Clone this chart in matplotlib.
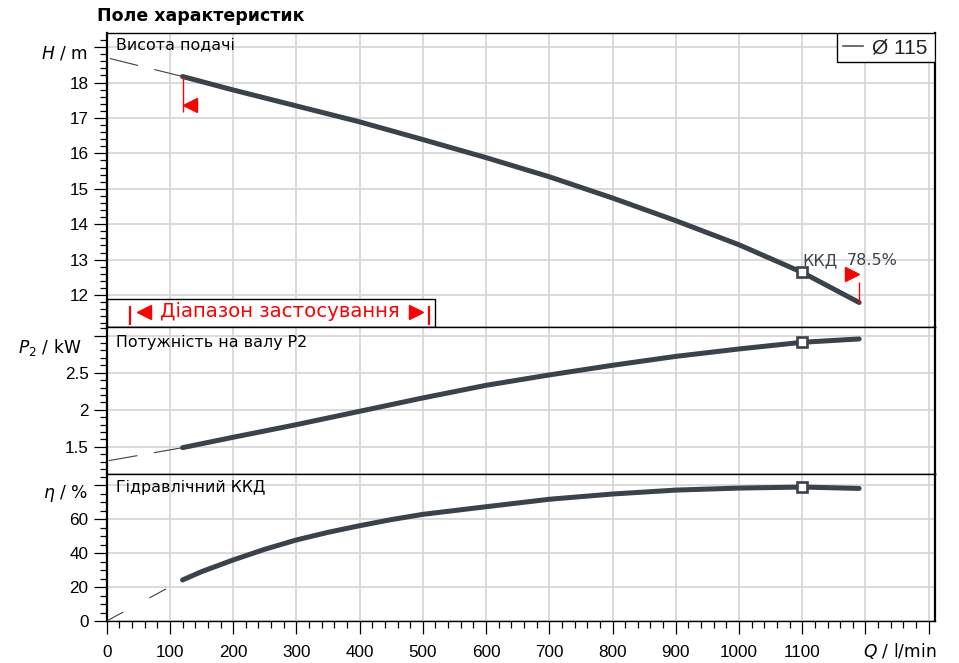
import numpy as np
import matplotlib
matplotlib.use("Agg")
import matplotlib.pyplot as plt
from matplotlib.ticker import MultipleLocator, FixedLocator, FuncFormatter
from matplotlib.patches import Rectangle
from matplotlib.transforms import offset_copy, blended_transform_factory

plt.rcParams['font.family'] = ['Liberation Sans', 'DejaVu Sans']
plt.rcParams['mathtext.fontset'] = 'custom'
plt.rcParams['mathtext.it'] = 'DejaVu Sans:italic'
plt.rcParams['mathtext.rm'] = 'DejaVu Sans'
plt.rcParams['lines.scale_dashes'] = False

### data
q = [120, 200, 300, 400, 500, 600, 700, 800, 900, 1000, 1100, 1190]
head = [18.17, 17.79, 17.34, 16.89, 16.39, 15.88, 15.34, 14.74, 14.10, 13.42, 12.64, 11.79]
power = [1.49, 1.63, 1.80, 1.98, 2.16, 2.33, 2.47, 2.60, 2.72, 2.82, 2.91, 2.955]

q_eta = [120, 150, 200, 250, 300, 350, 400, 450, 500, 600, 700, 800, 900, 1000, 1100, 1190]
eta = [24.2, 29.1, 36.0, 42.3, 47.8, 52.3, 56.2, 59.8, 62.9, 67.4, 71.8, 74.9, 77.2, 78.4, 79.0, 78.2]

# dashed extension towards Q = 0
q_ext = [120, 0]
head_ext = [18.17, 18.70]
power_ext = [1.49, 1.31]
q_ext_eta = [0, 120]
eta_ext = [0, 24.2]

q_bep = 1100
bep_head = 12.64
bep_power = 2.91
bep_eta = 79.0
bep_label = "78.5%"

app_range = [37, 509]
legend_label = "Ø 115"

dark = '#3a424b'
red = '#ff0000'
grid_c = '#d4d4d4'
wide = 'DejaVu Sans'

W, H = 959, 663
fig = plt.figure(figsize=(W / 100, H / 100), dpi=100)


def frac(x0, y0, x1, y1):
    return [x0 / W, 1 - y1 / H, (x1 - x0) / W, (y1 - y0) / H]


ax_h = fig.add_axes(frac(106.7, 33.3, 935, 326.7))
ax_p = fig.add_axes(frac(106.7, 326.7, 935, 474))
ax_e = fig.add_axes(frac(106.7, 474, 935, 621))

ylims = [(11.107, 19.39), (1.135, 3.12), (0, 86.7)]
majors = [np.arange(12, 20, 1), [1.5, 2.0, 2.5, 3.0], np.arange(0, 81, 20)]
minors = [0.2, 0.1, 5]
hidden = [19, 3.0, 80]
fmts = ['{:.0f}', '{:g}', '{:.0f}']

for ax, yl, mj, mn, hid, fm in zip([ax_h, ax_p, ax_e], ylims, majors, minors, hidden, fmts):
    ax.set_xlim(0, 1310)
    ax.set_ylim(*yl)
    ax.xaxis.set_major_locator(MultipleLocator(100))
    ax.xaxis.set_minor_locator(MultipleLocator(20))
    ax.yaxis.set_major_locator(FixedLocator(mj))
    ax.yaxis.set_minor_locator(MultipleLocator(mn))
    ax.yaxis.set_major_formatter(FuncFormatter(lambda v, p, hid=hid, fm=fm: '' if abs(v - hid) < 1e-6 else fm.format(v)))
    ax.grid(True, which='major', color=grid_c, lw=1.2)
    ax.set_axisbelow(True)
    ax.tick_params(axis='y', which='major', direction='out', length=9.6, width=0.9, labelsize=12.3, pad=3.5)
    ax.tick_params(axis='y', which='minor', direction='out', length=5.3, width=0.9)
    for s in ax.spines.values():
        s.set_linewidth(1.0)
    ax.spines['left'].set_linewidth(1.6)
    ax.spines['right'].set_linewidth(1.6)
    if ax is not ax_e:
        ax.tick_params(axis='x', which='both', length=0, labelbottom=False)

ax_e.tick_params(axis='x', which='major', direction='out', length=9.6, width=0.9, labelsize=12.3, pad=8)
ax_e.tick_params(axis='x', which='minor', direction='out', length=5.3, width=0.9)
ax_e.xaxis.set_major_formatter(FuncFormatter(lambda v, p: '' if v > 1150 else '{:.0f}'.format(v)))

# curves
for ax, yv, ye, yb in [(ax_h, head, head_ext, bep_head), (ax_p, power, power_ext, bep_power)]:
    ax.plot(q_ext, ye, color=dark, lw=0.8, dashes=(21, 12), zorder=3)
    ax.plot(q, yv, color=dark, lw=3.6, solid_capstyle='round', solid_joinstyle='round', zorder=4)
    ax.plot([q_bep], [yb], marker='s', ms=6.5, mew=1.9, mec=dark, mfc='white', zorder=5)
ax_e.plot(q_ext_eta, eta_ext, color=dark, lw=0.8, dashes=(13.5, 21.5), zorder=3)
ax_e.plot(q_eta, eta, color=dark, lw=3.6, solid_capstyle='round', solid_joinstyle='round', zorder=4)
ax_e.plot([q_bep], [bep_eta], marker='s', ms=6.5, mew=1.9, mec=dark, mfc='white', zorder=5)

# red limit flags on the head curve
ax_h.vlines(q[0], 17.155, head[0], color=red, lw=1.0, zorder=5)
ax_h.plot([q[0]], [17.36], marker='<', ms=10.3, color=red, lw=0,
          transform=offset_copy(ax_h.transData, fig=fig, x=5.2, y=0, units='points'), zorder=5)
ax_h.vlines(q[-1], head[-1], 12.38, color=red, lw=1.0, zorder=5)
ax_h.plot([q[-1]], [12.59], marker='>', ms=10.3, color=red, lw=0,
          transform=offset_copy(ax_h.transData, fig=fig, x=-5.2, y=0, units='points'), zorder=5)

ax_h.text(q_bep, 12.97, "ККД", color=dark, fontsize=11.5, family=wide, ha='left', va='center', zorder=6)
ax_h.text(1171, 12.97, bep_label, color=dark, fontsize=11.5, family=wide, ha='left', va='center', zorder=6)

# application range band
ax_h.add_patch(Rectangle((0, 11.107), 519.5, 11.896 - 11.107, facecolor='white',
                         edgecolor='black', lw=1.0, zorder=2.5, clip_on=False))
ax_h.vlines(app_range, 11.163, 11.679, color=red, lw=1.6, zorder=6)
ax_h.plot([app_range[0]], [11.515], marker='<', ms=10.5, color=red, lw=0,
          transform=offset_copy(ax_h.transData, fig=fig, x=10, y=0, units='points'), zorder=6)
ax_h.plot([app_range[1]], [11.515], marker='>', ms=10.5, color=red, lw=0,
          transform=offset_copy(ax_h.transData, fig=fig, x=-9, y=0, units='points'), zorder=6)
ax_h.text(np.mean(app_range), 11.53, "Діапазон застосування", color=red, fontsize=14.2, family=wide,
          ha='center', va='center', zorder=6)

# legend box
ax_h.add_patch(Rectangle((0.8813, 0.903), 0.1187, 0.097, transform=ax_h.transAxes,
                         facecolor='white', edgecolor='black', lw=1.0, zorder=7))
ax_h.plot([0.8886, 0.9134], [0.9567, 0.9567], transform=ax_h.transAxes, color='#555555', lw=1.2, zorder=8)
ax_h.text(0.9236, 0.9515, legend_label, transform=ax_h.transAxes, color='#222222', fontsize=15,
          ha='left', va='center', zorder=8)

# panel labels
for ax, yy, label in [(ax_h, 0.96, "Висота подачі"), (ax_p, 0.895, "Потужність на валу P2"),
                      (ax_e, 0.91, "Гідравлічний ККД")]:
    ax.text(14, yy, label, transform=blended_transform_factory(ax.transData, ax.transAxes),
            fontsize=11.4, family=wide, ha='left', va='center')

# axis labels
fig.text(88 / W, 1 - 53 / H, "$H$ / m", fontsize=12.3, family=wide, ha='right', va='center')
fig.text(81 / W, 1 - 347 / H, "$P_2$ / kW", fontsize=12.3, family=wide, ha='right', va='center')
fig.text(88 / W, 1 - 493 / H, "$\\eta$ / %", fontsize=12.3, family=wide, ha='right', va='center')
fig.text(863 / W, 1 - 651 / H, "$Q$ / l/min", fontsize=12.3, family=wide, ha='left', va='center')

fig.text(96.7 / W, 1 - 16 / H, "Поле характеристик", fontsize=12.5, family=wide, fontweight='bold',
         ha='left', va='center')

fig.savefig('out.png', dpi=100)
